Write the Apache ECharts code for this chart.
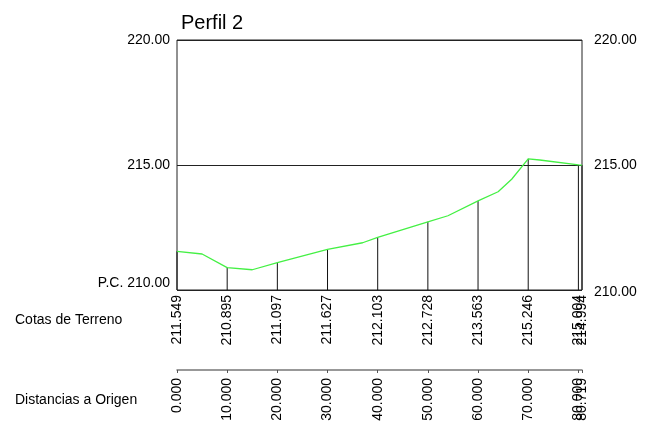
<!DOCTYPE html>
<html>
<head>
<meta charset="utf-8">
<script src="https://cdn.jsdelivr.net/npm/echarts@6/dist/echarts.min.js"></script>
<style>
  html, body { margin: 0; padding: 0; background: #fff; }
  #chart { width: 661px; height: 439px; }
</style>
</head>
<body>
<div id="chart"></div>
<script>
// terrain profile
const profileDist = [0, 5, 10, 15, 20, 30, 37, 40, 50, 54, 60, 64, 66.7, 70, 72.3, 80, 80.719]
const profileElev = [211.549, 211.44, 210.895, 210.81, 211.097, 211.627, 211.89, 212.103, 212.728, 212.97, 213.563, 213.93, 214.43, 215.246, 215.2, 215.004, 214.994]

// stations with printed values
const stations = [0, 10, 20, 30, 40, 50, 60, 70, 80, 80.719]
const stationElev = [211.549, 210.895, 211.097, 211.627, 212.103, 212.728, 213.563, 215.246, 215.004, 214.994]

const elevTicks = [210, 215, 220]

const font = 'Liberation Sans, Arial, sans-serif'

const chart = echarts.init(document.getElementById('chart'))

const profileData = profileDist.map((d, i) => [d, profileElev[i]])
const stationData = stations.map((d, i) => [d, stationElev[i]])
const distData = stations.map((d) => [d, 0])

// rotated label reading bottom to top, its end just under (x, y)
function vLabel(x, y, text) {
  return {
    type: 'text',
    x: x, y: y,
    rotation: Math.PI / 2,
    style: { text: text, font: '14px ' + font, fill: '#000', align: 'right', verticalAlign: 'middle' },
  }
}

chart.setOption({
  animation: false,
  title: {
    text: 'Perfil 2',
    left: 176,
    top: 8,
    textStyle: { fontFamily: font, fontSize: 20, fontWeight: 'normal', color: '#000' },
  },
  graphic: [
    {
      type: 'text', left: 15, top: 313,
      style: { text: 'Cotas de Terreno', font: '14px ' + font, fill: '#000' },
    },
    {
      type: 'text', left: 15, top: 393,
      style: { text: 'Distancias a Origen', font: '14px ' + font, fill: '#000' },
    },
  ],
  grid: [
    { left: 177, top: 40, width: 405, height: 250, show: true, borderColor: '#222', borderWidth: 1 },
    { left: 177, top: 369, width: 405, height: 1 },
  ],
  xAxis: [
    { gridIndex: 0, type: 'value', min: 0, max: 80.719, show: false },
    {
      gridIndex: 1, type: 'value', min: 0, max: 80.719, position: 'bottom',
      axisLine: { lineStyle: { color: '#777', width: 1.5 } },
      axisTick: { show: true, length: 3, customValues: stations, lineStyle: { color: '#555' } },
      axisLabel: { show: false },
      splitLine: { show: false },
    },
  ],
  yAxis: [
    {
      gridIndex: 0, type: 'value', min: 210, max: 220, interval: 5, position: 'left',
      axisLine: { show: false }, axisTick: { show: false },
      splitLine: { show: true, lineStyle: { color: '#222', width: 1 } },
      axisLabel: {
        customValues: elevTicks, margin: 7, fontFamily: font, fontSize: 14, color: '#000',
        formatter: (v) => v === 210 ? '{pc|P.C. 210.00}' : v.toFixed(2),
        rich: { pc: { fontFamily: font, fontSize: 14, color: '#000', padding: [0, 0, 14, 0] } },
      },
    },
    {
      gridIndex: 0, type: 'value', min: 210, max: 220, interval: 5, position: 'right',
      axisLine: { show: false }, axisTick: { show: false }, splitLine: { show: false },
      axisLabel: {
        customValues: elevTicks, margin: 12, fontFamily: font, fontSize: 14, color: '#000',
        formatter: (v) => v === 210 ? '{lo|210.00}' : v.toFixed(2),
        rich: { lo: { fontFamily: font, fontSize: 14, color: '#000', padding: [4, 0, 0, 0] } },
      },
    },
    { gridIndex: 1, type: 'value', show: false, min: 0, max: 1 },
  ],
  series: [
    {
      // vertical station lines from terrain to datum, plus the elevation labels
      type: 'custom',
      xAxisIndex: 0, yAxisIndex: 0,
      data: stationData,
      clip: false,
      z: 3,
      renderItem: (params, api) => {
        const top = api.coord([api.value(0), api.value(1)])
        const bottom = api.coord([api.value(0), 210])
        return {
          type: 'group',
          children: [
            {
              type: 'line',
              shape: { x1: top[0], y1: top[1], x2: bottom[0], y2: bottom[1] },
              style: { stroke: '#111', lineWidth: 1 },
            },
            vLabel(bottom[0], bottom[1] + 5, api.value(1).toFixed(3)),
          ],
        }
      },
    },
    {
      // distance labels under the distance axis
      type: 'custom',
      xAxisIndex: 1, yAxisIndex: 2,
      data: distData,
      clip: false,
      renderItem: (params, api) => {
        const p = api.coord([api.value(0), 0])
        return vLabel(p[0], p[1] + 8, api.value(0).toFixed(3))
      },
    },
    {
      type: 'line',
      xAxisIndex: 0, yAxisIndex: 0,
      data: profileData,
      showSymbol: false,
      lineStyle: { color: '#44f044', width: 1.3 },
      z: 4,
    },
  ],
})
</script>
</body>
</html>
